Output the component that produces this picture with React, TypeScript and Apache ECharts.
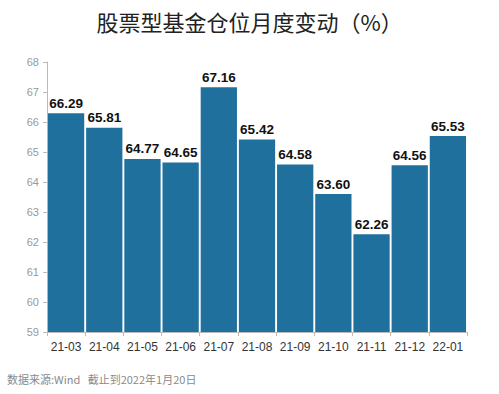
import React, { useEffect, useRef } from "react";
import * as echarts from "echarts";

const categories = ["21-03", "21-04", "21-05", "21-06", "21-07", "21-08", "21-09", "21-10", "21-11", "21-12", "22-01"];
const values = [66.29, 65.81, 64.77, 64.65, 67.16, 65.42, 64.58, 63.6, 62.26, 64.56, 65.53];
const yTicks = [59, 60, 61, 62, 63, 64, 65, 66, 67, 68];
const titleText = "股票型基金仓位月度变动（%）";
const footerText = "数据来源:Wind   截止到2022年1月20日";

export default function App() {
  const ref = useRef<HTMLDivElement>(null);
  useEffect(() => {
    if (!ref.current) return;
    const chart = echarts.init(ref.current, undefined, { renderer: "svg" });
    chart.setOption({
      animation: false,
      backgroundColor: "#ffffff",
      title: {
        text: titleText,
        left: "center",
        top: 5,
        textStyle: { fontSize: 22, fontWeight: "normal", color: "#222", fontFamily: "Noto Sans CJK SC" },
      },
      graphic: [
        {
          type: "text",
          left: 7,
          top: 373,
          style: { text: footerText, fill: "#8a8a8a", fontSize: 11, fontFamily: "Noto Sans CJK SC" },
        },
      ],
      grid: { left: 47, right: 32, top: 62, bottom: 62 },
      xAxis: {
        type: "category",
        data: categories,
        axisLine: { lineStyle: { color: "#bbbbbb" } },
        axisTick: { show: true, lineStyle: { color: "#bbbbbb" }, length: 4 },
        axisLabel: { color: "#333", fontSize: 12, fontFamily: "Arial", margin: 9, interval: 0 },
      },
      yAxis: {
        type: "value",
        min: yTicks[0],
        max: yTicks[yTicks.length - 1],
        interval: 1,
        axisLine: { show: true, lineStyle: { color: "#bbbbbb" } },
        axisTick: { show: true, lineStyle: { color: "#bbbbbb" }, length: 4 },
        splitLine: { show: false },
        axisLabel: { color: "#999", fontSize: 11, fontFamily: "Arial", margin: 8 },
      },
      series: [
        {
          type: "bar",
          data: values,
          barCategoryGap: "5%",
          itemStyle: { color: "#20709e" },
          label: {
            show: true,
            position: "top",
            distance: 3,
            formatter: (p: any) => p.value.toFixed(2),
            color: "#111",
            fontSize: 13.5,
            fontWeight: "bold",
            fontFamily: "Arial",
          },
        },
      ],
    });
    return () => chart.dispose();
  }, []);
  return <div ref={ref} style={{ width: 499, height: 394, position: "absolute", left: 0, top: 0 }} />;
}
